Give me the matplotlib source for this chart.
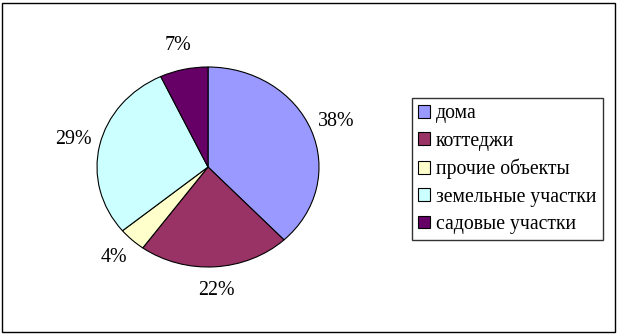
import matplotlib.pyplot as plt
from matplotlib.patches import Rectangle

# Data
labels = ['дома', 'коттеджи', 'прочие объекты', 'земельные участки', 'садовые участки']
shares = [38, 22, 4, 29, 7]
colors = ['#9999FF', '#993366', '#FFFFCC', '#CCFFFF', '#660066']

plt.rcParams['font.family'] = ['Liberation Serif', 'DejaVu Serif']

W, H = 618, 334
fig = plt.figure(figsize=(W / 100, H / 100), dpi=100)

# outer frame
fig.patches.append(Rectangle((2 / W, 2 / H), 613 / W, 329 / H, transform=fig.transFigure,
                             fill=False, edgecolor='black', linewidth=1))

# pie axes placed on the ellipse bounding box
cx, cy, rx, ry = 208, 167, 111, 100
ax = fig.add_axes([(cx - rx) / W, 1 - (cy + ry) / H, 2 * rx / W, 2 * ry / H])
wedges, texts, autotexts = ax.pie(
    shares, colors=colors, startangle=90, counterclock=False,
    autopct='%1.0f%%', pctdistance=1.24,
    wedgeprops=dict(edgecolor='black', linewidth=0.8),
    textprops=dict(fontsize=14.4, color='black'))
ax.set_aspect('auto')
ax.set_xlim(-1, 1)
ax.set_ylim(-1, 1)
for w in wedges:
    w.set_clip_on(False)
for t in autotexts:
    t.set_clip_on(False)

leg = fig.legend(wedges, labels, loc='upper left',
                 bbox_to_anchor=(412 / W, 1 - 98 / H), fontsize=14.2,
                 frameon=True, fancybox=False, edgecolor='black',
                 handlelength=0.6, handleheight=0.6, handletextpad=0.3,
                 labelspacing=0.42, borderpad=0.32, borderaxespad=0)
leg.get_frame().set_linewidth(1)

fig.savefig('out.png', dpi=100)
